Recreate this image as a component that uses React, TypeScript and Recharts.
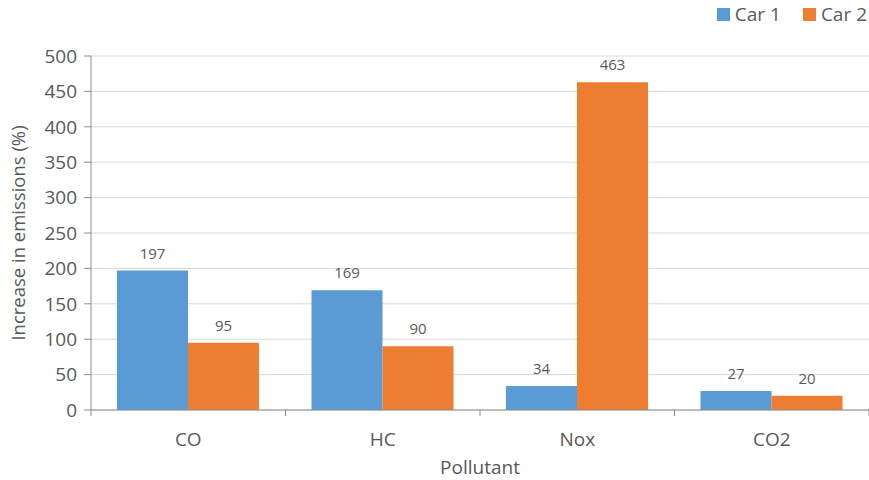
import { BarChart, Bar, XAxis, YAxis, CartesianGrid, LabelList, Label } from "recharts";

// ── Data ──────────────────────────────────────────────────────────────────────
const pollutants = ["CO", "HC", "Nox", "CO2"];
const car1 = [197, 169, 34, 27];
const car2 = [95, 90, 463, 20];
const yTicks = [0, 50, 100, 150, 200, 250, 300, 350, 400, 450, 500];

const data = pollutants.map((p, i) => ({ pollutant: p, car1: car1[i], car2: car2[i] }));

// ── Style ─────────────────────────────────────────────────────────────────────
const W = 869, H = 480;
const M = { top: 56, right: 0, left: 0, bottom: 0 };
const Y_W = 91;
const BAND = (W - Y_W - M.right) / pollutants.length;
const TXT = "#595959";
const AXIS = "#8c8c8c";
const FONT = "'Open Sans', 'Noto Sans', sans-serif";

// category label centered, tick marks on the band edges
function CategoryTick({ x, y, payload, index }: any) {
  return (
    <g>
      {index === 0 && <line x1={x - BAND / 2} y1={y - 8} x2={x - BAND / 2} y2={y - 2} stroke={AXIS} />}
      <line x1={x + BAND / 2} y1={y - 8} x2={x + BAND / 2} y2={y - 2} stroke={AXIS} />
      <text x={x} y={y + 28} textAnchor="middle" fill={TXT} fontSize={19} fontFamily={FONT}>
        {payload.value}
      </text>
    </g>
  );
}

function LegendBox() {
  const items = [
    { name: "Car 1", color: "#5b9bd5" },
    { name: "Car 2", color: "#ed7d31" },
  ];
  return (
    <div style={{ position: "absolute", top: 1, right: 2, display: "flex", gap: 22, fontFamily: FONT, fontSize: 19, color: TXT }}>
      {items.map((it) => (
        <div key={it.name} style={{ display: "flex", alignItems: "center", gap: 5 }}>
          <div style={{ width: 13, height: 13, background: it.color }} />
          {it.name}
        </div>
      ))}
    </div>
  );
}

export default function App() {
  return (
    <div style={{ position: "absolute", left: 0, top: 0, width: W, height: H, background: "#fff" }}>
      <BarChart width={W} height={H} data={data} margin={M} barSize={71} barGap={0}>
        <CartesianGrid vertical={false} stroke="#d9d9d9" />
        <XAxis
          dataKey="pollutant"
          height={70}
          stroke={AXIS}
          tickLine={false}
          tick={<CategoryTick />}
          interval={0}
        >
          <Label value="Pollutant" position="insideBottom" offset={6} fill={TXT} fontSize={19} fontFamily={FONT} />
        </XAxis>
        <YAxis
          width={Y_W}
          domain={[0, 500]}
          ticks={yTicks}
          stroke={AXIS}
          tickSize={7}
          tick={{ fill: TXT, fontSize: 19, fontFamily: FONT }}
          tickMargin={7}
        >
          <Label
            value="Increase in emissions (%)"
            angle={-90}
            position="insideLeft"
            offset={18}
            style={{ textAnchor: "middle" }}
            fill={TXT}
            fontSize={18.5}
            fontFamily={FONT}
          />
        </YAxis>
        <Bar dataKey="car1" name="Car 1" fill="#5b9bd5" isAnimationActive={false}>
          <LabelList dataKey="car1" position="top" offset={12} fill={TXT} fontSize={15} fontFamily={FONT} />
        </Bar>
        <Bar dataKey="car2" name="Car 2" fill="#ed7d31" isAnimationActive={false}>
          <LabelList dataKey="car2" position="top" offset={12} fill={TXT} fontSize={15} fontFamily={FONT} />
        </Bar>
      </BarChart>
      <LegendBox />
    </div>
  );
}
